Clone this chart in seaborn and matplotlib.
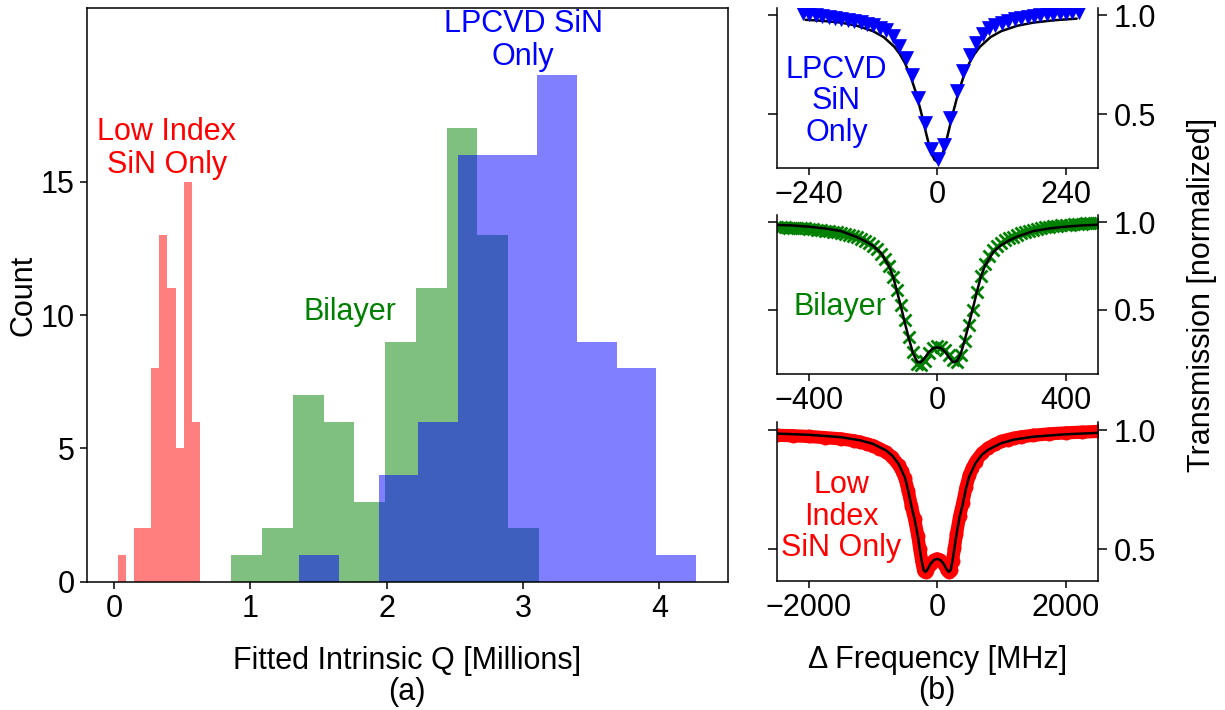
import numpy as np
import pandas as pd
import matplotlib
matplotlib.use("Agg")
import matplotlib.pyplot as plt
import seaborn as sns

# ---------------- panel (a): histogram counts ----------------
red_counts = [1, 0, 2, 2, 8, 13, 11, 5, 15, 6]
red_range = (0.029, 0.633)
green_counts = [1, 2, 7, 6, 3, 9, 11, 17, 13, 2]
green_range = (0.861, 3.115)
blue_counts = [1, 0, 4, 6, 16, 16, 19, 9, 8, 1]
blue_range = (1.358, 4.268)
hist_xticks = [0, 1, 2, 3, 4]
hist_yticks = [0, 5, 10, 15]

# ---------------- panel (b): transmission traces ----------------
lp_x = [-251, -239, -227, -215, -203, -191, -179, -167, -155, -143, -131, -119,
        -107, -95, -83, -71, -59, -47, -35, -23, -11, 1, 13, 25, 37, 49, 61, 73,
        85, 97, 109, 121, 133, 145, 157, 169, 181, 193, 205, 217, 229, 241, 253, 265]
lp_y = [1.010, 1.005, 1.000, 0.996, 0.992, 0.987, 0.982, 0.976, 0.970, 0.964, 0.957, 0.950,
        0.937, 0.924, 0.892, 0.845, 0.785, 0.700, 0.580, 0.455, 0.325, 0.275, 0.345, 0.480,
        0.615, 0.720, 0.800, 0.860, 0.905, 0.935, 0.950, 0.960, 0.970, 0.978, 0.986, 0.992,
        0.997, 1.001, 1.004, 1.007, 1.010, 1.012, 1.014, 1.016]
lp_fit_x = [-246, -220, -180, -150, -120, -100, -80, -70, -60, -50, -40, -30, -25, -20, -15,
            -10, -5, 0, 5, 10, 15, 20, 25, 30, 40, 50, 60, 70, 80, 100, 120, 150, 180, 220, 261]
lp_fit_y = [0.976, 0.972, 0.962, 0.946, 0.919, 0.889, 0.840, 0.804, 0.757, 0.694, 0.612, 0.510,
            0.454, 0.397, 0.344, 0.300, 0.270, 0.260, 0.270, 0.300, 0.344, 0.397, 0.454, 0.510,
            0.612, 0.694, 0.757, 0.804, 0.840, 0.889, 0.919, 0.946, 0.962, 0.974, 0.982]

bi_x = [-500, -487.5, -475, -462.5, -450, -437.5, -425, -412.5, -400, -387.5, -375, -362.5,
        -350, -337.5, -325, -312.5, -300, -287.5, -275, -262.5, -250, -237.5, -225, -212.5,
        -200, -187.5, -175, -162.5, -150, -137.5, -125, -112.5, -100, -87.5, -75, -62.5,
        -50, -37.5, -25, -12.5, 0, 12.5, 25, 37.5, 50, 62.5, 75, 87.5, 100, 112.5, 125,
        137.5, 150, 162.5, 175, 187.5, 200, 212.5, 225, 237.5, 250, 262.5, 275, 287.5,
        300, 312.5, 325, 337.5, 350, 362.5, 375, 387.5, 400, 412.5, 425, 437.5, 450,
        462.5, 475, 487.5, 500]
bi_y = [0.973, 0.972, 0.971, 0.970, 0.970, 0.968, 0.967, 0.965, 0.963, 0.961, 0.958, 0.956,
        0.953, 0.950, 0.947, 0.943, 0.940, 0.935, 0.930, 0.922, 0.913, 0.903, 0.892, 0.879,
        0.865, 0.845, 0.820, 0.790, 0.748, 0.688, 0.615, 0.528, 0.440, 0.345, 0.255, 0.190,
        0.180, 0.205, 0.250, 0.280, 0.292, 0.288, 0.270, 0.240, 0.210, 0.200, 0.240, 0.320,
        0.410, 0.500, 0.600, 0.690, 0.760, 0.805, 0.840, 0.865, 0.882, 0.897, 0.909, 0.918,
        0.928, 0.936, 0.944, 0.951, 0.958, 0.963, 0.968, 0.972, 0.975, 0.978, 0.981, 0.983,
        0.985, 0.987, 0.989, 0.991, 0.993, 0.994, 0.995, 0.996, 0.997]
bi_fit_x = [-500, -450, -400, -350, -300, -250, -225, -200, -175, -150, -137.5, -125, -112.5,
            -100, -87.5, -75, -62.5, -50, -37.5, -25, -12.5, 0, 12.5, 25, 37.5, 50, 62.5, 75,
            87.5, 100, 112.5, 125, 137.5, 150, 175, 200, 225, 250, 300, 350, 400, 450, 500]
bi_fit_y = [0.985, 0.982, 0.975, 0.965, 0.950, 0.915, 0.893, 0.866, 0.825, 0.750, 0.690, 0.605,
            0.515, 0.420, 0.330, 0.250, 0.200, 0.198, 0.225, 0.258, 0.278, 0.283, 0.278, 0.258,
            0.225, 0.198, 0.205, 0.255, 0.335, 0.425, 0.515, 0.610, 0.695, 0.755, 0.830, 0.870,
            0.897, 0.918, 0.950, 0.965, 0.975, 0.982, 0.986]

li_x = [-2500, -2250, -2000, -1750, -1500, -1300, -1200, -1100, -1000, -900, -800, -700, -600,
        -550, -500, -450, -400, -350, -300, -270, -240, -210, -180, -150, -100, -50, 0, 50,
        100, 150, 180, 210, 240, 270, 300, 350, 400, 450, 500, 550, 600, 700, 800, 900, 1000,
        1100, 1200, 1300, 1500, 1750, 2000, 2250, 2500]
li_y = [0.978, 0.976, 0.973, 0.968, 0.963, 0.955, 0.950, 0.942, 0.935, 0.922, 0.908, 0.887,
        0.853, 0.830, 0.797, 0.745, 0.680, 0.625, 0.555, 0.500, 0.450, 0.410, 0.403, 0.413,
        0.438, 0.454, 0.460, 0.455, 0.440, 0.415, 0.405, 0.412, 0.452, 0.505, 0.562, 0.638,
        0.695, 0.760, 0.810, 0.842, 0.868, 0.903, 0.925, 0.940, 0.952, 0.960, 0.966, 0.971,
        0.978, 0.984, 0.988, 0.991, 0.994]
li_fit_x = [-2500, -2000, -1500, -1200, -1000, -800, -700, -600, -500, -450, -400, -350, -300,
            -270, -240, -210, -180, -150, -100, -50, 0, 50, 100, 150, 180, 210, 240, 270, 300,
            350, 400, 450, 500, 600, 700, 800, 1000, 1200, 1500, 2000, 2500]
li_fit_y = [0.985, 0.980, 0.970, 0.957, 0.942, 0.915, 0.893, 0.858, 0.800, 0.745, 0.680, 0.625,
            0.555, 0.500, 0.450, 0.412, 0.405, 0.415, 0.440, 0.455, 0.460, 0.455, 0.440, 0.415,
            0.405, 0.412, 0.452, 0.505, 0.560, 0.635, 0.690, 0.755, 0.805, 0.862, 0.897, 0.918,
            0.945, 0.960, 0.972, 0.982, 0.988]

RED, GREEN, BLUE = "#FF0000", "#008000", "#0000FF"

sns.set_style("ticks")
plt.rcParams["font.family"] = ["Liberation Sans", "DejaVu Sans"]
FS = 22
plt.rcParams.update({
    "font.size": FS, "axes.labelsize": FS, "xtick.labelsize": FS, "ytick.labelsize": FS,
    "axes.linewidth": 1.1, "xtick.major.width": 1.1, "ytick.major.width": 1.1,
    "xtick.major.size": 5, "ytick.major.size": 5,
    "axes.edgecolor": "black", "xtick.color": "black", "ytick.color": "black",
    "text.color": "black", "axes.labelcolor": "black",
    "xtick.direction": "out", "ytick.direction": "out",
})

fig = plt.figure(figsize=(12.25, 7.10), dpi=100)

# ---------------- (a) ----------------
ax = fig.add_axes([0.0708, 0.1807, 0.5232, 0.8076])
for counts, rng, col in [(red_counts, red_range, RED),
                         (green_counts, green_range, GREEN),
                         (blue_counts, blue_range, BLUE)]:
    n = len(counts)
    e = np.linspace(rng[0], rng[1], n + 1)
    ctr = (e[:-1] + e[1:]) / 2
    sns.histplot(x=ctr, weights=counts, bins=n, binrange=rng, color=col, alpha=0.5,
                 edgecolor="none", linewidth=0, ax=ax)
ax.set_xlim(-0.2, 4.5)
ax.set_ylim(0, 21.5)
ax.set_xticks(hist_xticks)
ax.set_yticks(hist_yticks)
ax.set_xlabel("Fitted Intrinsic Q [Millions]\n(a)", linespacing=1.05, labelpad=16)
ax.set_ylabel("Count", labelpad=2)
ax.text(0.386, 16.25, "Low Index\nSiN Only", color=RED, ha="center", va="center",
        fontsize=FS, linespacing=1.15)
ax.text(1.732, 10.1, "Bilayer", color=GREEN, ha="center", va="center", fontsize=FS)
ax.text(3.0, 20.3, "LPCVD SiN\nOnly", color=BLUE, ha="center", va="center",
        fontsize=FS, linespacing=1.15)

# ---------------- (b) ----------------
L, W = 0.634, 0.262
ax1 = fig.add_axes([L, 0.7638, W, 0.2245])
ax2 = fig.add_axes([L, 0.4728, W, 0.2244])
ax3 = fig.add_axes([L, 0.1817, W, 0.2244])

sns.lineplot(x=lp_fit_x, y=lp_fit_y, color="black", linewidth=1.8, sort=False, ax=ax1)
sns.lineplot(x=lp_x, y=lp_y, color=BLUE, linestyle="", marker="v", markersize=10,
             markeredgecolor=BLUE, markeredgewidth=0.5, sort=False, ax=ax1)

sns.lineplot(x=bi_x, y=bi_y, color=GREEN, linestyle="", marker="x", markersize=8,
             markeredgecolor=GREEN, markeredgewidth=2.0, sort=False, ax=ax2)
sns.lineplot(x=bi_fit_x, y=bi_fit_y, color="black", linewidth=1.8, sort=False, ax=ax2)

sns.lineplot(x=li_x, y=li_y, color=RED, linewidth=9.5, marker="o", markersize=9.5,
             markeredgecolor=RED, markeredgewidth=0.5, sort=False, ax=ax3)
sns.lineplot(x=li_fit_x, y=li_fit_y, color="black", linewidth=1.8, sort=False, ax=ax3)

for a, xl, xt, yl in [(ax1, (-300, 300), [-240, 0, 240], (0.23, 1.034)),
                      (ax2, (-500, 500), [-400, 0, 400], (0.129, 1.042)),
                      (ax3, (-2500, 2500), [-2000, 0, 2000], (0.367, 1.035))]:
    a.set_xlim(*xl)
    a.set_xticks(xt)
    a.set_ylim(*yl)
    a.set_yticks([0.5, 1.0])
    a.set_yticklabels(["0.5", "1.0"])
    a.spines["top"].set_visible(False)
    a.tick_params(axis="y", left=True, right=True, labelleft=False, labelright=True,
                  length=6.5, pad=5)
    a.set_xlabel("")
    a.set_ylabel("")

ax2.yaxis.set_label_position("right")
ax2.set_ylabel("Transmission [normalized]", labelpad=22)
ax3.set_xlabel("\u0394 Frequency [MHz]\n(b)", linespacing=1.05, labelpad=16)

ax1.text(-188, 0.564, "LPCVD\nSiN\nOnly", color=BLUE, ha="center", va="center",
         fontsize=FS, linespacing=1.08)
ax2.text(-302, 0.514, "Bilayer", color=GREEN, ha="center", va="center", fontsize=FS)
ax3.text(-1489, 0.637, "Low\nIndex\nSiN Only", color=RED, ha="center", va="center",
         fontsize=FS, linespacing=1.08)

fig.savefig("out.png", dpi=100)
